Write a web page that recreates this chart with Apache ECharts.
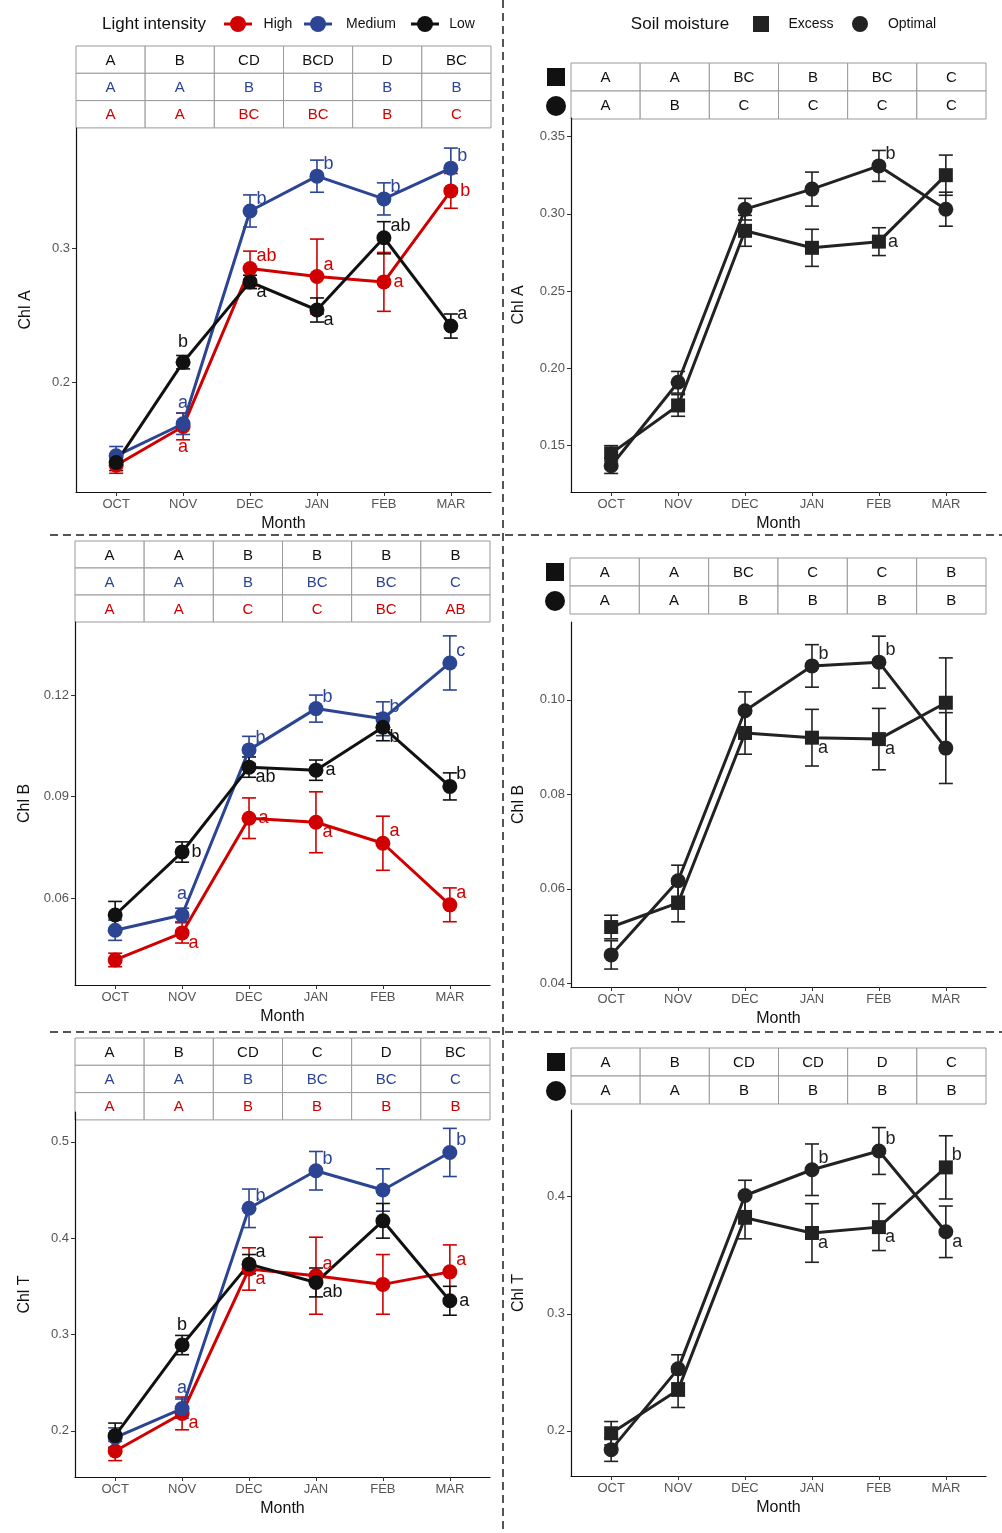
<!DOCTYPE html>
<html><head><meta charset="utf-8">
<script src="https://cdn.jsdelivr.net/npm/echarts@6/dist/echarts.min.js"></script>
<style>html,body{margin:0;padding:0;background:#fff}#c{width:1002px;height:1533px}</style>
</head><body><div id="c"></div>
<script>
const months = ['OCT','NOV','DEC','JAN','FEB','MAR'];
// Panel A left (Light intensity)
const aHigh = [0.138,0.167,0.285,0.279,0.275,0.343], aHighErr=[0.006,0.010,0.013,0.028,0.022,0.013];
const aMed  = [0.145,0.169,0.328,0.354,0.337,0.360], aMedErr=[0.007,0.008,0.012,0.012,0.012,0.015];
const aLow  = [0.140,0.215,0.275,0.254,0.308,0.242], aLowErr=[0.006,0.005,0.005,0.009,0.012,0.009];
const aHighL=['','a','ab','a','a','b'], aMedL=['','a','b','b','b','b'], aLowL=['','b','a','a','ab','a'];
// Panel A right (Soil moisture)
const aEx  = [0.145,0.176,0.289,0.278,0.282,0.325], aExErr=[0.005,0.007,0.010,0.012,0.009,0.013];
const aOpt = [0.137,0.191,0.303,0.316,0.331,0.303], aOptErr=[0.005,0.007,0.007,0.011,0.010,0.011];
const aExL=['','','','','a',''], aOptL=['','','','','b',''];
// Panel B left
const bHigh=[0.0417,0.0497,0.0836,0.0824,0.0762,0.058], bHighErr=[0.002,0.003,0.006,0.009,0.008,0.005];
const bMed =[0.0505,0.055,0.1038,0.116,0.113,0.1295], bMedErr=[0.003,0.002,0.004,0.004,0.005,0.008];
const bLow =[0.055,0.0736,0.0987,0.0978,0.1105,0.093], bLowErr=[0.004,0.003,0.003,0.003,0.004,0.004];
const bHighL=['','a','a','a','a','a'], bMedL=['','a','b','b','b','c'], bLowL=['','b','ab','a','b','b'];
// Panel B right
const bEx =[0.0519,0.057,0.093,0.092,0.0917,0.0994], bExErr=[0.0025,0.004,0.0045,0.006,0.0065,0.0095];
const bOpt=[0.046,0.0617,0.0977,0.1072,0.108,0.0898], bOptErr=[0.003,0.0033,0.004,0.0045,0.0055,0.0075];
const bExL=['','','','a','a',''], bOptL=['','','','b','b',''];
// Panel T left
const tHigh=[0.179,0.218,0.368,0.361,0.352,0.365], tHighErr=[0.010,0.017,0.022,0.040,0.031,0.028];
const tMed =[0.193,0.223,0.431,0.470,0.450,0.489], tMedErr=[0.010,0.010,0.020,0.020,0.022,0.025];
const tLow =[0.195,0.289,0.373,0.354,0.418,0.335], tLowErr=[0.013,0.010,0.010,0.015,0.018,0.015];
const tHighL=['','a','a','a','','a'], tMedL=['','a','b','b','','b'], tLowL=['','b','a','ab','','a'];
// Panel T right
const tEx =[0.198,0.235,0.382,0.369,0.374,0.425], tExErr=[0.010,0.015,0.018,0.025,0.020,0.027];
const tOpt=[0.184,0.253,0.401,0.423,0.439,0.370], tOptErr=[0.010,0.012,0.013,0.022,0.020,0.022];
const tExL=['','','','a','a','b'], tOptL=['','','','b','b','a'];
// Tables
const tabA_L=[['A','B','CD','BCD','D','BC'],['A','A','B','B','B','B'],['A','A','BC','BC','B','C']];
const tabA_R=[['A','A','BC','B','BC','C'],['A','B','C','C','C','C']];
const tabB_L=[['A','A','B','B','B','B'],['A','A','B','BC','BC','C'],['A','A','C','C','BC','AB']];
const tabB_R=[['A','A','BC','C','C','B'],['A','A','B','B','B','B']];
const tabT_L=[['A','B','CD','C','D','BC'],['A','A','B','BC','BC','C'],['A','A','B','B','B','B']];
const tabT_R=[['A','B','CD','CD','D','C'],['A','A','B','B','B','B']];

const RED='#d00000', BLUE='#2b4593', BLK='#111', DK='#222';
const P = {
 aHigh:['','b','tr','tr','r','r'], aMed:['','t','tr','tr','tr','tr'], aLow:['','t','br','br','tr','tr'],
 aEx:['','','','','r',''], aOpt:['','','','','tr',''],
 bHigh:['','br','r','br','tr','tr'], bMed:['','t','tr','tr','tr','tr'], bLow:['','r','br','r','br','tr'],
 bEx:['','','','br','br',''], bOpt:['','','','tr','tr',''],
 tHigh:['','br','br','tr','','tr'], tMed:['','t','tr','tr','','tr'], tLow:['','t','tr','br','','r'],
 tEx:['','','','br','br','tr'], tOpt:['','','','tr','tr','br']
};
const grids=[
 {left:76,top:128,width:415,height:364, min:0.118,max:0.39, ticks:[0.2,0.3], name:'Chl A'},
 {left:571,top:118,width:415,height:374, min:0.12,max:0.362, ticks:[0.15,0.20,0.25,0.30,0.35], name:'Chl A'},
 {left:75,top:622,width:415,height:363, min:0.0343,max:0.1416, ticks:[0.06,0.09,0.12], name:'Chl B'},
 {left:571,top:622,width:415,height:365, min:0.0392,max:0.1165, ticks:[0.04,0.06,0.08,0.10], name:'Chl B'},
 {left:75,top:1112,width:415,height:365, min:0.152,max:0.531, ticks:[0.2,0.3,0.4,0.5], name:'Chl T'},
 {left:571,top:1110,width:415,height:366, min:0.1615,max:0.474, ticks:[0.2,0.3,0.4], name:'Chl T'}
];
const fmtY=[v=>v.toFixed(1),v=>v.toFixed(2),v=>v.toFixed(2),v=>v.toFixed(2),v=>v.toFixed(1),v=>v.toFixed(1)];
const panels=[
 [[aHigh,aHighErr,aHighL,P.aHigh,RED,'circle'],[aMed,aMedErr,aMedL,P.aMed,BLUE,'circle'],[aLow,aLowErr,aLowL,P.aLow,BLK,'circle']],
 [[aEx,aExErr,aExL,P.aEx,DK,'rect'],[aOpt,aOptErr,aOptL,P.aOpt,DK,'circle']],
 [[bHigh,bHighErr,bHighL,P.bHigh,RED,'circle'],[bMed,bMedErr,bMedL,P.bMed,BLUE,'circle'],[bLow,bLowErr,bLowL,P.bLow,BLK,'circle']],
 [[bEx,bExErr,bExL,P.bEx,DK,'rect'],[bOpt,bOptErr,bOptL,P.bOpt,DK,'circle']],
 [[tHigh,tHighErr,tHighL,P.tHigh,RED,'circle'],[tMed,tMedErr,tMedL,P.tMed,BLUE,'circle'],[tLow,tLowErr,tLowL,P.tLow,BLK,'circle']],
 [[tEx,tExErr,tExL,P.tEx,DK,'rect'],[tOpt,tOptErr,tOptL,P.tOpt,DK,'circle']]
];
const FONT='Arial, Liberation Sans, sans-serif';
const xAxis=[], yAxis=[], series=[];
grids.forEach((g,i)=>{
 xAxis.push({type:'value',gridIndex:i,min:-0.6,max:5.6,name:'Month',nameLocation:'middle',nameGap:24,
  nameTextStyle:{color:'#111',fontSize:16,fontFamily:FONT},
  axisLine:{onZero:false,lineStyle:{color:'#111',width:1.2}},splitLine:{show:false},
  axisTick:{show:true,customValues:[0,1,2,3,4,5],length:4,lineStyle:{color:'#333'}},
  axisLabel:{customValues:[0,1,2,3,4,5],formatter:v=>months[Math.round(v)],color:'#555',fontSize:13,fontFamily:FONT,margin:6}});
 yAxis.push({type:'value',gridIndex:i,min:g.min,max:g.max,name:g.name,nameLocation:'middle',nameGap:i%2?44:42,
  nameTextStyle:{color:'#111',fontSize:16,fontFamily:FONT},
  axisLine:{show:true,onZero:false,lineStyle:{color:'#111',width:1.2}},splitLine:{show:false},
  axisTick:{show:true,customValues:g.ticks,length:4,lineStyle:{color:'#333'}},
  axisLabel:{customValues:g.ticks,formatter:fmtY[i],color:'#555',fontSize:13,fontFamily:FONT,margin:6}});
 panels[i].forEach(([vals,errs,lets,pos,col,sym])=>{
  series.push({type:'custom',xAxisIndex:i,yAxisIndex:i,z:3,
   data:vals.map((v,k)=>[k,v-errs[k],v+errs[k]]),
   renderItem:(p,api)=>{const a=api.coord([api.value(0),api.value(1)]),b=api.coord([api.value(0),api.value(2)]);
    const s={stroke:col,lineWidth:1.6};
    return {type:'group',children:[
     {type:'line',shape:{x1:a[0],y1:a[1],x2:b[0],y2:b[1]},style:s},
     {type:'line',shape:{x1:a[0]-7,y1:a[1],x2:a[0]+7,y2:a[1]},style:s},
     {type:'line',shape:{x1:b[0]-7,y1:b[1],x2:b[0]+7,y2:b[1]},style:s}]};}});
  series.push({type:'line',xAxisIndex:i,yAxisIndex:i,z:4,symbol:sym,symbolSize:sym==='rect'?14:15,
   itemStyle:{color:col},lineStyle:{color:col,width:3},
   data:vals.map((v,k)=>{const p=pos[k];let lab={show:false};
    if(lets[k]){lab={show:true,formatter:lets[k],color:col,fontSize:18,fontFamily:FONT,
     position:p==='t'?'top':p==='b'?'bottom':'right',distance:p==='t'||p==='b'?4:2,
     offset:p==='tr'?[-3,-12]:p==='br'?[-3,10]:[0,0]};}
    return {value:[k,v],label:lab};})});
 });
});
const G=[];
function txt(x,y,s,opt){G.push({type:'text',x:x,y:y,style:Object.assign({text:s,fill:'#111',font:'15px '+FONT,textAlign:'center',textVerticalAlign:'middle'},opt||{})});}
function table(x,y,w,rh,rows,cols,markers){
 const cw=w/6;
 rows.forEach((r,ri)=>r.forEach((c,ci)=>{
  G.push({type:'rect',shape:{x:x+ci*cw,y:y+ri*rh,width:cw,height:rh},style:{fill:'#fff',stroke:'#999',lineWidth:1}});
  txt(x+ci*cw+cw/2,y+ri*rh+rh/2+1,c,{fill:cols[ri]});
 }));
 if(markers){
  G.push({type:'rect',shape:{x:x-24,y:y+rh/2-9,width:18,height:18},style:{fill:'#111'}});
  G.push({type:'circle',shape:{cx:x-15,cy:y+rh*1.5+1,r:10},style:{fill:'#111'}});
 }
}
const LC=[BLK,BLUE,RED];
table(76,46,415,27.3,tabA_L,LC);
table(571,63,415,28,tabA_R,[BLK,BLK],true);
table(75,541,415,27,tabB_L,LC);
table(570,558,416,28,tabB_R,[BLK,BLK],true);
table(75,1038,415,27.3,tabT_L,LC);
table(571,1048,415,28,tabT_R,[BLK,BLK],true);
const dash={stroke:'#555',lineWidth:2,lineDash:[8,5]};
G.push({type:'line',shape:{x1:503,y1:0,x2:503,y2:1533},style:dash});
G.push({type:'line',shape:{x1:50,y1:535,x2:1002,y2:535},style:dash});
G.push({type:'line',shape:{x1:50,y1:1032,x2:1002,y2:1032},style:dash});
txt(154,24,'Light intensity',{font:'17px '+FONT});
[[RED,'High',238,278],[BLUE,'Medium',318,371],[BLK,'Low',425,462]].forEach(([c,l,mx,tx])=>{
 G.push({type:'line',shape:{x1:mx-14,y1:24,x2:mx+14,y2:24},style:{stroke:c,lineWidth:3}});
 G.push({type:'circle',shape:{cx:mx,cy:24,r:8},style:{fill:c}});
 txt(tx,24,l,{font:'14px '+FONT});
});
txt(680,24,'Soil moisture',{font:'17px '+FONT});
G.push({type:'rect',shape:{x:753,y:16,width:16,height:16},style:{fill:'#222'}});
txt(811,24,'Excess',{font:'14px '+FONT});
G.push({type:'circle',shape:{cx:860,cy:24,r:8},style:{fill:'#222'}});
txt(912,24,'Optimal',{font:'14px '+FONT});

const chart=echarts.init(document.getElementById('c'),null,{renderer:'canvas'});
chart.setOption({animation:false,backgroundColor:'#fff',grid:grids.map(g=>({left:g.left,top:g.top,width:g.width,height:g.height})),
 xAxis,yAxis,series,graphic:G});
</script></body></html>
